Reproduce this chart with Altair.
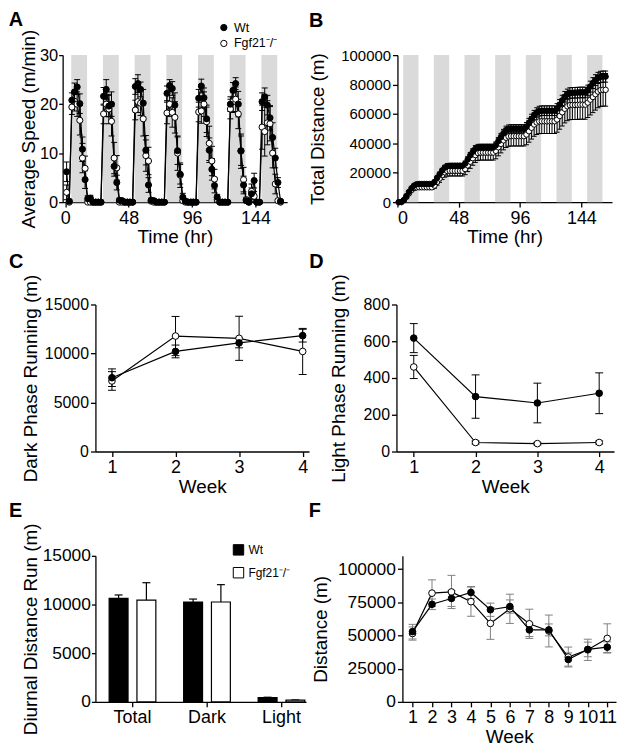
import altair as alt
import pandas as pd

FONT = "Liberation Sans"
BAND_GRAY = "#dadada"
WT = "Wt"
KO = "Fgf21\u207b/\u207b"

# ---------------- Panel A / B : time course (2 h bins) ----------------
HOURS = list(range(1, 164, 2))
DARK_START = [4.5, 28.5, 52.5, 76.5, 100.5, 124.5, 148.5]
DARK_END = [16.5, 40.5, 64.5, 88.5, 112.5, 136.5, 160.5]

SPEED_WT = [
    6.2, 0.2, 20.8, 22.5, 23.5, 20.1, 10.8, 4.6, 0.7, 0.8, 0.0, 0.0,
    0.0, 0.0, 21.6, 23.0, 19.6, 20.0, 7.3, 4.0, 0.4, 0.3, 0.0, 0.0,
    0.0, 0.0, 23.6, 24.2, 23.0, 20.2, 10.6, 3.5, 0.4, 0.3, 0.0, 0.0,
    0.0, 0.0, 22.2, 23.8, 23.2, 19.8, 10.5, 5.7, 1.0, 0.2, 0.0, 0.0,
    0.0, 0.0, 21.2, 23.7, 21.3, 17.0, 10.6, 6.7, 3.4, 1.0, 0.0, 0.0,
    0.0, 0.0, 20.0, 22.8, 24.2, 20.0, 10.5, 3.5, 0.3, 0.0, 1.7, 4.4,
    0.0, 0.0, 20.5, 21.5, 19.8, 17.2, 13.2, 9.0, 4.0, 0.2,
]
SPEED_WT_SEM = [
    2.0, 0.3, 1.5, 1.8, 1.5, 2.0, 2.5, 1.8, 0.6, 0.6, 0.2, 0.2,
    0.2, 0.2, 1.8, 2.0, 2.2, 2.5, 2.0, 1.5, 0.4, 0.3, 0.2, 0.2,
    0.2, 0.2, 1.6, 1.8, 1.5, 2.8, 3.0, 1.5, 0.4, 0.3, 0.2, 0.2,
    0.2, 0.2, 1.5, 1.2, 1.4, 2.5, 2.8, 2.0, 0.8, 0.3, 0.2, 0.2,
    0.2, 0.2, 1.8, 1.4, 2.0, 2.8, 2.5, 2.2, 1.5, 0.6, 0.2, 0.2,
    0.2, 0.2, 1.5, 1.6, 1.2, 2.6, 3.0, 1.8, 0.4, 0.2, 1.2, 1.5,
    0.2, 0.2, 1.8, 1.8, 2.0, 2.5, 3.0, 2.0, 1.0, 0.2,
]
SPEED_KO = [
    2.0, 0.0, 19.4, 20.6, 20.0, 16.7, 9.0, 6.9, 0.0, 0.0, 0.0, 0.0,
    0.0, 0.0, 18.0, 20.0, 19.0, 16.5, 9.0, 7.0, 0.0, 0.0, 0.0, 0.0,
    0.0, 0.0, 18.8, 20.5, 20.2, 17.0, 9.5, 8.4, 0.2, 0.0, 0.0, 0.0,
    0.0, 0.0, 18.2, 20.0, 18.3, 17.3, 10.0, 5.5, 0.3, 0.0, 0.0, 0.0,
    0.0, 0.0, 18.4, 18.6, 20.0, 16.4, 12.0, 8.4, 4.7, 0.5, 0.0, 0.0,
    0.0, 0.0, 19.0, 20.5, 21.0, 18.0, 10.4, 4.6, 0.5, 0.0, 2.2, 1.2,
    0.0, 0.0, 15.3, 14.4, 16.2, 16.0, 10.0, 3.7, 0.3, 0.0,
]
SPEED_KO_SEM = [
    1.5, 0.2, 1.5, 2.0, 2.5, 3.0, 3.0, 2.5, 0.3, 0.2, 0.2, 0.2,
    0.2, 0.2, 2.0, 2.5, 3.0, 3.0, 3.2, 2.5, 0.3, 0.2, 0.2, 0.2,
    0.2, 0.2, 2.0, 2.2, 2.5, 3.5, 3.2, 2.8, 0.3, 0.2, 0.2, 0.2,
    0.2, 0.2, 2.2, 2.5, 3.0, 3.2, 3.5, 2.5, 0.4, 0.2, 0.2, 0.2,
    0.2, 0.2, 2.0, 2.5, 2.5, 3.0, 3.5, 3.0, 2.0, 0.4, 0.2, 0.2,
    0.2, 0.2, 2.0, 2.2, 2.5, 3.0, 3.5, 2.5, 0.5, 0.2, 1.5, 1.0,
    0.2, 0.2, 4.5, 5.0, 4.5, 3.5, 3.0, 2.0, 0.3, 0.2,
]

DIST_WT = [
    0, 100, 1500, 4200, 7000, 9500, 11300, 12200, 12400, 12400, 12400, 12400,
    12400, 12400, 13800, 16500, 19000, 21500, 23500, 24500, 24700, 24700, 24700, 24700,
    24700, 24700, 26200, 29000, 31800, 34300, 36300, 37000, 37100, 37100, 37100, 37100,
    37100, 37100, 38600, 41400, 44200, 46800, 48900, 49700, 49900, 49900, 49900, 49900,
    49900, 49900, 51300, 54000, 56700, 59200, 61000, 61900, 62200, 62200, 62200, 62200,
    62200, 62200, 63600, 66300, 69200, 71700, 73300, 74200, 74400, 74400, 74500, 74600,
    74600, 74600, 76000, 78600, 81000, 83000, 84500, 85200, 85400, 85400,
]
DIST_WT_SEM = [
    0, 0, 100, 300, 500, 700, 800, 900, 900, 900, 900, 900,
    900, 900, 1000, 1200, 1400, 1500, 1600, 1700, 1700, 1700, 1700, 1700,
    1700, 1700, 1800, 1900, 2000, 2100, 2200, 2300, 2300, 2300, 2300, 2300,
    2300, 2300, 2400, 2500, 2600, 2700, 2800, 2800, 2800, 2800, 2800, 2800,
    2800, 2800, 2900, 3000, 3100, 3200, 3200, 3300, 3300, 3300, 3300, 3300,
    3300, 3300, 3400, 3500, 3500, 3600, 3600, 3600, 3600, 3600, 3600, 3600,
    3600, 3600, 3600, 3700, 3700, 3700, 3800, 3800, 3800, 3800,
]
DIST_KO = [
    0, 50, 1200, 3500, 6000, 8300, 9600, 10100, 10100, 10100, 10100, 10100,
    10100, 10100, 11300, 13700, 16100, 18400, 20300, 21200, 21300, 21300, 21300, 21300,
    21300, 21300, 22500, 25000, 27500, 29900, 32000, 33400, 33700, 33700, 33700, 33700,
    33700, 33700, 34900, 37300, 39600, 42000, 43800, 44700, 44900, 44900, 44900, 44900,
    44900, 44900, 46000, 48200, 50600, 52800, 54200, 54900, 55000, 55000, 55000, 55000,
    55000, 55000, 56200, 58600, 61100, 63500, 65200, 66000, 66100, 66100, 66200, 66300,
    66300, 66300, 67700, 69700, 71500, 73400, 75200, 76200, 76400, 76400,
]
DIST_KO_SEM = [
    0, 0, 200, 500, 900, 1200, 1400, 1500, 1500, 1500, 1500, 1500,
    1500, 1500, 1800, 2200, 2600, 3000, 3300, 3500, 3500, 3500, 3500, 3500,
    3500, 3500, 3800, 4200, 4500, 4800, 5000, 5100, 5100, 5100, 5100, 5100,
    5100, 5100, 5400, 5800, 6100, 6400, 6600, 6700, 6700, 6700, 6700, 6700,
    6700, 6700, 7000, 7400, 7700, 8000, 8200, 8300, 8300, 8300, 8300, 8300,
    8300, 8300, 8600, 9000, 9300, 9600, 9800, 9900, 9900, 9900, 9900, 9900,
    9900, 9900, 10100, 10400, 10600, 10800, 11000, 11100, 11100, 11100,
]

# ---------------- Panel C / D : weekly dark / light running ----------------
WEEKS4 = [1, 2, 3, 4]
DARK_WT = [7530, 10210, 11080, 11820]
DARK_WT_SEM = [900, 650, 500, 650]
DARK_KO = [7200, 11780, 11550, 10210]
DARK_KO_SEM = [950, 2000, 2250, 2350]
LIGHT_WT = [617, 299, 264, 317]
LIGHT_WT_SEM = [79, 118, 108, 111]
LIGHT_KO = [460, 49, 43, 49]
LIGHT_KO_SEM = [63, 8, 7, 8]

# ---------------- Panel E : diurnal distance ----------------
PHASES = ["Total", "Dark", "Light"]
DIURNAL_WT = [10630, 10260, 437]
DIURNAL_WT_SEM = [350, 300, 40]
DIURNAL_KO = [10460, 10260, 170]
DIURNAL_KO_SEM = [1780, 1780, 30]

# ---------------- Panel F : weekly distance ----------------
WEEKS11 = list(range(1, 12))
WEEKLY_WT = [52900, 73500, 77900, 82400, 69400, 71800, 54200, 54200, 31900, 39500, 41200]
WEEKLY_WT_SEM = [5500, 4000, 6000, 4500, 5000, 5000, 5000, 4500, 5000, 5500, 4000]
WEEKLY_KO = [51500, 81900, 82800, 75500, 59100, 70100, 58800, 53400, 33800, 39200, 47800]
WEEKLY_KO_SEM = [5000, 10000, 12500, 11000, 12000, 11000, 11000, 12000, 7500, 8000, 11000]


def frame(x, y, sem, g):
    return pd.DataFrame({
        "x": x, "y": y,
        "lo": [a - b for a, b in zip(y, sem)],
        "hi": [a + b for a, b in zip(y, sem)],
        "g": g,
    })


def panel_title(letter, dx, offset):
    return alt.TitleParams(letter, anchor="start", frame="bounds", fontSize=20,
                           fontWeight="bold", font=FONT, color="black", dx=dx,
                           offset=offset)


def xaxis(values, title, label_size=18):
    return alt.Axis(values=values, title=title, format="d", labelFontSize=label_size,
                    titleFontSize=19, labelPadding=2, titlePadding=1, tickSize=5,
                    labelOverlap=False)


def yaxis(values, title, label_size=16, title_pad=4, label_pad=2, tick=5, offset=0):
    return alt.Axis(values=values, title=title, format="d", labelFontSize=label_size,
                    titleFontSize=19, labelPadding=label_pad, titlePadding=title_pad,
                    tickSize=tick, labelOverlap=False, offset=offset)


def xy_layers(df_wt, df_ko, xs, ys, xax, yax, size, cap, ecolor="black",
              legend=None, lw=1.2):
    both = pd.concat([df_ko, df_wt], ignore_index=True)
    X = alt.X("x:Q", scale=xs, axis=xax)
    err = alt.Chart(both).mark_rule(color=ecolor, strokeWidth=1).encode(
        x=X, y=alt.Y("lo:Q", scale=ys, axis=yax), y2="hi:Q")
    cap_hi = alt.Chart(both).mark_tick(orient="horizontal", size=cap, thickness=1,
                                       color=ecolor, opacity=1).encode(
        x=X, y=alt.Y("hi:Q", scale=ys, axis=yax))
    cap_lo = alt.Chart(both).mark_tick(orient="horizontal", size=cap, thickness=1,
                                       color=ecolor, opacity=1).encode(
        x=X, y=alt.Y("lo:Q", scale=ys, axis=yax))
    line_ko = alt.Chart(df_ko).mark_line(color="black", strokeWidth=lw).encode(
        x=X, y=alt.Y("y:Q", scale=ys, axis=yax))
    line_wt = alt.Chart(df_wt).mark_line(color="black", strokeWidth=lw).encode(
        x=X, y=alt.Y("y:Q", scale=ys, axis=yax))
    if legend is not None:
        pts = alt.Chart(both).mark_point(shape="circle", filled=True, stroke="black",
                                         strokeWidth=1, size=size, opacity=1).encode(
            x=X, y=alt.Y("y:Q", scale=ys, axis=yax),
            fill=alt.Fill("g:N", scale=alt.Scale(domain=[WT, KO], range=["black", "white"]),
                          legend=legend))
        return [err, cap_hi, cap_lo, line_ko, line_wt, pts]
    pts_ko = alt.Chart(df_ko).mark_point(shape="circle", filled=True, fill="white",
                                         stroke="black", strokeWidth=1, size=size,
                                         opacity=1).encode(
        x=X, y=alt.Y("y:Q", scale=ys, axis=yax))
    pts_wt = alt.Chart(df_wt).mark_point(shape="circle", filled=True, fill="black",
                                         stroke="black", strokeWidth=1, size=size,
                                         opacity=1).encode(
        x=X, y=alt.Y("y:Q", scale=ys, axis=yax))
    return [err, cap_hi, cap_lo, line_ko, line_wt, pts_ko, pts_wt]


bands_df = pd.DataFrame({"s": DARK_START, "e": DARK_END})

# ---- A ----
legA = alt.Legend(orient="none", legendX=123, legendY=-34, title=None, labelFontSize=12.5,
                  labelFont=FONT, symbolType="circle", symbolSize=40,
                  symbolStrokeColor="black", symbolStrokeWidth=1, rowPadding=3,
                  labelColor="black", padding=0)
xsA = alt.Scale(domain=[-2, 168], range=[-33, 193], nice=False, zero=False)
ysA = alt.Scale(domain=[0, 30], nice=False)
xaA = xaxis([0, 48, 96, 144], "Time (hr)")
yaA = yaxis([0, 10, 20, 30], "Average Speed (m/min)", label_size=16.5, title_pad=1,
            label_pad=1, tick=4, offset=33)
bandsA = alt.Chart(bands_df).mark_rect(color=BAND_GRAY).encode(
    x=alt.X("s:Q", scale=xsA, axis=xaA), x2="e:Q",
    y=alt.YDatum(0, scale=ysA, axis=yaA), y2=alt.Y2Datum(30))
A = alt.layer(bandsA, *xy_layers(
    frame(HOURS, SPEED_WT, SPEED_WT_SEM, WT), frame(HOURS, SPEED_KO, SPEED_KO_SEM, KO),
    xsA, ysA, xaA, yaA, size=38, cap=6, legend=legA)).properties(
    width=193, height=148, title=panel_title("A", -11, -9))

# ---- B ----
xsB = alt.Scale(domain=[0, 168], nice=False, zero=False)
ysB = alt.Scale(domain=[0, 100000], nice=False)
xaB = xaxis([0, 48, 96, 144], "Time (hr)")
yaB = yaxis([0, 20000, 40000, 60000, 80000, 100000], "Total Distance (m)",
            label_size=15, title_pad=13)
bandsB = alt.Chart(bands_df).mark_rect(color=BAND_GRAY).encode(
    x=alt.X("s:Q", scale=xsB, axis=xaB), x2="e:Q",
    y=alt.YDatum(0, scale=ysB, axis=yaB), y2=alt.Y2Datum(100000))
B = alt.layer(bandsB, *xy_layers(
    frame(HOURS, DIST_WT, DIST_WT_SEM, WT), frame(HOURS, DIST_KO, DIST_KO_SEM, KO),
    xsB, ysB, xaB, yaB, size=30, cap=5)).properties(
    width=216, height=148, title=panel_title("B", 0, 17))

# ---- C ----
C = alt.layer(*xy_layers(
    frame(WEEKS4, DARK_WT, DARK_WT_SEM, WT), frame(WEEKS4, DARK_KO, DARK_KO_SEM, KO),
    alt.Scale(domain=[0.74, 4.1], nice=False, zero=False),
    alt.Scale(domain=[0, 15000], nice=False),
    xaxis([1, 2, 3, 4], "Week"),
    yaxis([0, 5000, 10000, 15000], "Dark Phase Running (m)", title_pad=3.5),
    size=45, cap=8)).properties(width=215, height=148,
                                title=panel_title("C", -13, 2))

# ---- D ----
D = alt.layer(*xy_layers(
    frame(WEEKS4, LIGHT_WT, LIGHT_WT_SEM, WT), frame(WEEKS4, LIGHT_KO, LIGHT_KO_SEM, KO),
    alt.Scale(domain=[0.72, 4.24], nice=False, zero=False),
    alt.Scale(domain=[0, 800], nice=False),
    xaxis([1, 2, 3, 4], "Week"),
    yaxis([0, 200, 400, 600, 800], "Light Phase Running (m)", title_pad=15),
    size=45, cap=8)).properties(width=219, height=148,
                                title=panel_title("D", -20, 2))

# ---- E ----
dfE = pd.DataFrame({
    "phase": PHASES + PHASES,
    "g": [WT] * 3 + [KO] * 3,
    "v": DIURNAL_WT + DIURNAL_KO,
    "sem": DIURNAL_WT_SEM + DIURNAL_KO_SEM,
})
dfE["hi"] = dfE["v"] + dfE["sem"]
xE = alt.X("phase:N", sort=PHASES,
           scale=alt.Scale(paddingInner=0.373, paddingOuter=0.1, align=0.92),
           axis=alt.Axis(title=None, labelAngle=0, labelFontSize=18, labelPadding=2,
                         tickSize=5))
oE = alt.XOffset("g:N", sort=[WT, KO],
                 scale=alt.Scale(domain=[WT, KO], paddingInner=0.32))
ysE = alt.Scale(domain=[0, 15000], nice=False)
yaE = yaxis([0, 5000, 10000, 15000], "Diurnal Distance Run (m)", label_size=17.5,
            title_pad=1.3, label_pad=1, tick=4)
legE = alt.Legend(orient="none", legendX=138, legendY=-12, title=None, labelFontSize=12,
                  labelFont=FONT, symbolType="square", symbolSize=110,
                  symbolStrokeColor="black", symbolStrokeWidth=1, rowPadding=7,
                  labelColor="black", padding=0)
barsE = alt.Chart(dfE).mark_bar(stroke="black", strokeWidth=1.2).encode(
    x=xE, xOffset=oE, y=alt.Y("v:Q", scale=ysE, axis=yaE),
    fill=alt.Fill("g:N", scale=alt.Scale(domain=[WT, KO], range=["black", "white"]),
                  legend=legE))
errE = alt.Chart(dfE).mark_rule(color="black", strokeWidth=1.2).encode(
    x=xE, xOffset=oE, y=alt.Y("v:Q", scale=ysE, axis=yaE), y2="hi:Q")
capE = alt.Chart(dfE).mark_tick(orient="horizontal", size=8, thickness=1.2,
                                color="black", opacity=1).encode(
    x=xE, xOffset=oE, y=alt.Y("hi:Q", scale=ysE, axis=yaE))
E = alt.layer(errE, capE, barsE).properties(width=212, height=147,
                                            title=panel_title("E", -13, 2))

# ---- F ----
F = alt.layer(*xy_layers(
    frame(WEEKS11, WEEKLY_WT, WEEKLY_WT_SEM, WT), frame(WEEKS11, WEEKLY_KO, WEEKLY_KO_SEM, KO),
    alt.Scale(domain=[0.48, 11.45], nice=False, zero=False),
    alt.Scale(domain=[0, 110000], nice=False),
    xaxis(WEEKS11, "Week"),
    yaxis([0, 25000, 50000, 75000, 100000], "Distance (m)", label_size=17.5, title_pad=7),
    size=45, cap=8, ecolor="#808080")).properties(width=215, height=147,
                                                  title=panel_title("F", -3, 35))

row1 = alt.hconcat(A, B, spacing=-12).resolve_scale(fill="independent").resolve_legend(
    fill="independent")
row2 = alt.hconcat(C, D, spacing=0)
row3 = alt.hconcat(E, F, spacing=2).resolve_scale(fill="independent").resolve_legend(
    fill="independent")

chart = alt.concat(row1, row2, row3, columns=1, spacing=4, align="none").resolve_scale(
    fill="independent").resolve_legend(fill="independent").properties(
    padding={"left": 0, "top": 0, "right": 0, "bottom": 0}
).configure(font=FONT).configure_view(stroke=None).configure_axis(
    grid=False, domainColor="black", tickColor="black", labelColor="black",
    titleColor="black", domainWidth=1.3, tickWidth=1.3, labelFont=FONT,
    titleFont=FONT, titleFontWeight="normal"
)

chart.save("out.html", embed_options={"renderer": "svg", "actions": False})
